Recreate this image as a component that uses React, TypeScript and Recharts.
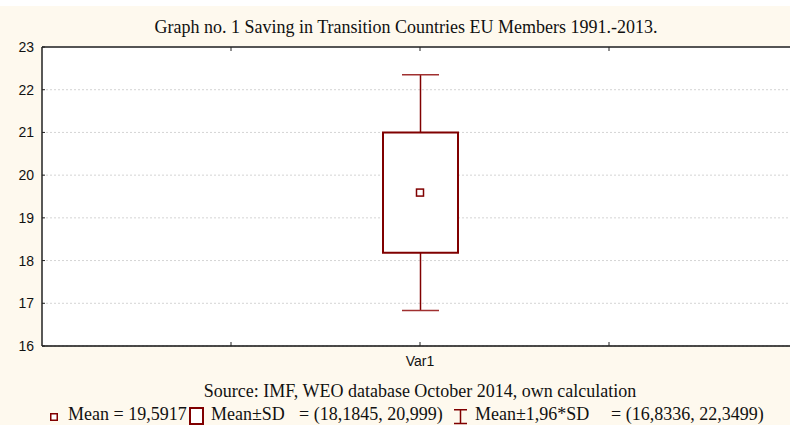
import {
  Bar,
  CartesianGrid,
  ComposedChart,
  Scatter,
  XAxis,
  YAxis,
} from 'recharts';

// summary statistics
const variables = ['Var1'];
const means = [19.5917];
const sdLow = [18.1845];
const sdHigh = [20.999];
const ciLow = [16.8336];
const ciHigh = [22.3499];

const yTicks = [16, 17, 18, 19, 20, 21, 22, 23];
const xTicks = [0.5, 1, 1.5];

const data = variables.map((name, i) => ({
  x: i + 1,
  name,
  mean: means[i],
  box: [sdLow[i], sdHigh[i]],
  whisker: [ciLow[i], ciHigh[i]],
}));

const RED = '#800000';
const CREAM = '#fef9ee';
const serif = '"Liberation Serif", "Times New Roman", serif';
const sans = '"Liberation Sans", Arial, sans-serif';

const fmt = (v: number) => String(v).replace('.', ',');

const MeanMarker = (props: any) => {
  const { cx, cy } = props;
  return <rect x={cx - 3.5} y={cy - 3.5} width={7} height={7} fill='#fff' stroke={RED} strokeWidth={1.5} />;
};

// whisker: stem + caps spanning the bar's pixel extent
const Whisker = (props: any) => {
  const { x, y, width, height } = props;
  const cx = x + width / 2;
  return (
    <g>
      <line x1={cx} y1={y} x2={cx} y2={y + height} stroke={RED} strokeWidth={1.5} />
      <line x1={x} y1={y} x2={x + width} y2={y} stroke='#a03030' strokeWidth={1.5} />
      <line x1={x} y1={y + height} x2={x + width} y2={y + height} stroke='#a03030' strokeWidth={1.5} />
    </g>
  );
};

const textStyle = {
  position: 'absolute' as const,
  whiteSpace: 'pre' as const,
  fontFamily: serif,
  fontSize: 18,
  lineHeight: '18px',
  color: '#111',
};

export default function App() {
  return (
    <div style={{ position: 'absolute', left: 0, top: 0, width: 790, height: 425, overflow: 'hidden', background: '#fff' }}>
      <div style={{ position: 'absolute', left: 0, top: 6, width: 790, height: 419, background: CREAM }} />
      <div style={{ position: 'absolute', left: 42, top: 47, width: 760, height: 299, background: '#fff' }} />
      <div style={{ position: 'absolute', left: 0, top: 0 }}>
        <ComposedChart
          width={800}
          height={425}
          data={data}
          margin={{ top: 46, right: 2, bottom: 49, left: 0 }}>
          <CartesianGrid vertical={false} stroke='#d4d4d4' strokeDasharray='2 2' />
          <XAxis
            xAxisId='top'
            orientation='top'
            dataKey='x'
            type='number'
            domain={[0, 2]}
            ticks={xTicks}
            height={1}
            tickSize={-4}
            tickFormatter={() => ''}
            axisLine={{ stroke: '#555', strokeWidth: 2 }}
            tickLine={{ stroke: '#222' }}
          />
          <XAxis
            dataKey='x'
            type='number'
            domain={[0, 2]}
            ticks={xTicks}
            height={30}
            tickSize={-4}
            tickMargin={14}
            tickFormatter={(v: number) => variables[v - 1] ?? ''}
            tick={{ fill: '#111', fontSize: 14, fontFamily: sans }}
            axisLine={{ stroke: '#111', strokeWidth: 1.5 }}
            tickLine={{ stroke: '#222' }}
          />
          <YAxis
            type='number'
            domain={[16, 23]}
            ticks={yTicks}
            width={42}
            tickSize={-3}
            tickMargin={11}
            tick={{ fill: '#111', fontSize: 14, fontFamily: sans }}
            axisLine={{ stroke: '#222', strokeWidth: 1.5 }}
            tickLine={{ stroke: '#222' }}
          />
          <Bar xAxisId='top' dataKey='whisker' barSize={37} shape={<Whisker />} isAnimationActive={false} />
          <Bar dataKey='box' barSize={75} fill='#fff' stroke={RED} strokeWidth={2} isAnimationActive={false} />
          <Scatter dataKey='mean' shape={<MeanMarker />} isAnimationActive={false} />
        </ComposedChart>
      </div>
      <div style={{ ...textStyle, left: 406, top: 18, transform: 'translateX(-50%)' }}>
        Graph no. 1 Saving in Transition Countries EU Members 1991.-2013.
      </div>
      <div style={{ ...textStyle, left: 420, top: 382, transform: 'translateX(-50%)' }}>
        Source: IMF, WEO database October 2014, own calculation
      </div>
      {/* legend */}
      <svg style={{ position: 'absolute', left: 0, top: 405 }} width={790} height={20}>
        <rect x={50.75} y={8.75} width={6.5} height={6.5} fill='#fff' stroke={RED} strokeWidth={1.5} />
        <rect x={190} y={3} width={13} height={16} fill='#fff' stroke={RED} strokeWidth={2} />
        <path d='M454 4.75 H467 M460.5 4.75 V18.5 M454 18.5 H467' stroke={RED} strokeWidth={1.5} fill='none' />
      </svg>
      <div style={{ ...textStyle, left: 68, top: 405 }}>{`Mean = ${fmt(means[0])}`}</div>
      <div style={{ ...textStyle, left: 211, top: 405 }}>Mean±SD</div>
      <div style={{ ...textStyle, left: 299, top: 405 }}>{`= (${fmt(sdLow[0])}, ${fmt(sdHigh[0])})`}</div>
      <div style={{ ...textStyle, left: 475, top: 405 }}>Mean±1,96*SD</div>
      <div style={{ ...textStyle, left: 611, top: 405 }}>{`= (${fmt(ciLow[0])}, ${fmt(ciHigh[0])})`}</div>
    </div>
  );
}
